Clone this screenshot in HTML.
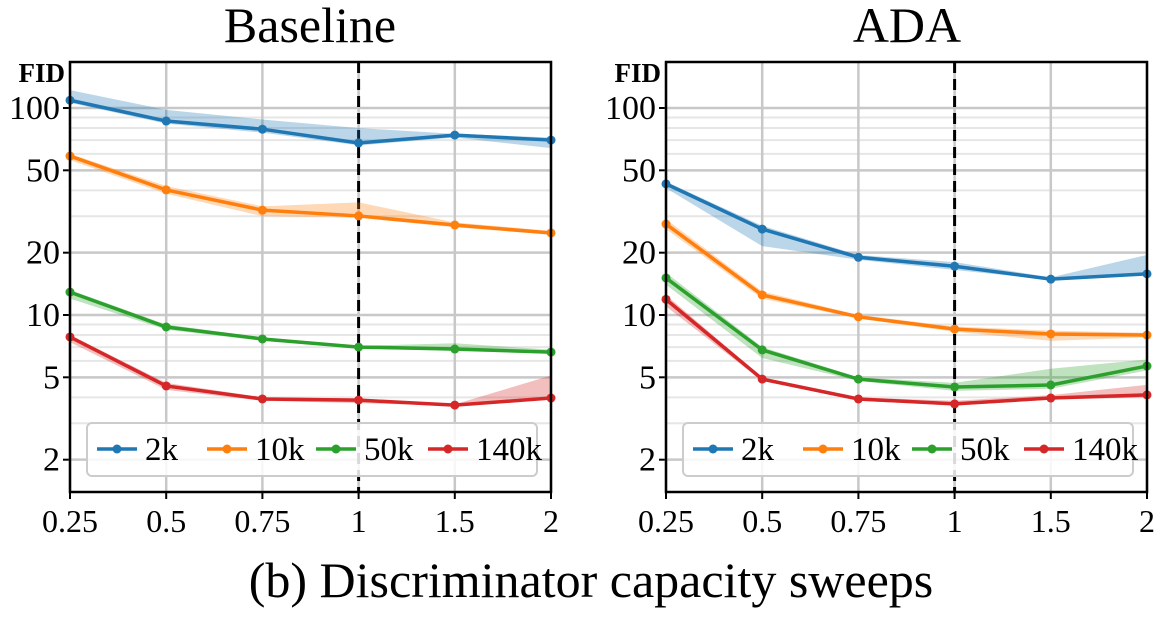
<!DOCTYPE html>
<html><head><meta charset="utf-8"><style>
body{margin:0;background:#fff;}
svg{display:block;}
svg text{font-family:"Liberation Serif","DejaVu Serif",serif;}
</style></head><body>
<svg id="c" width="1157" height="622" viewBox="0 0 1157 622" font-family="Liberation Serif, serif">
<text x="310" y="42" font-size="50" font-family="Liberation Serif, serif" text-anchor="middle">Baseline</text>
<text x="907" y="42" font-size="50" font-family="Liberation Serif, serif" text-anchor="middle">ADA</text>
<text x="591" y="597" font-size="50" font-family="Liberation Serif, serif" text-anchor="middle">(b) Discriminator capacity sweeps</text>
</svg>
<script>
const categories=["0.25","0.5","0.75","1","1.5","2"];
const seriesNames=["2k","10k","50k","140k"];
const colors=["#1f77b4","#ff7f0e","#2ca02c","#d62728"];
const yTicks=[2,5,10,20,50,100];
const base2k=[109,86.5,79,67.8,74,70];
const base10k=[58.6,40.2,32.1,30.1,27.2,24.9];
const base50k=[12.9,8.75,7.66,7.0,6.85,6.62];
const base140k=[7.83,4.54,3.93,3.88,3.67,3.97];
const base2kLo=[106,84,76,66,72,64];
const base2kHi=[122,98,88,80,75,72];
const base10kLo=[56,38.5,30,29.5,26.5,24.5];
const base10kHi=[60,42,33.5,35,28,25.5];
const base50kLo=[12,8.5,7.5,6.9,6.7,6.5];
const base50kHi=[13.2,9,7.8,7.1,7.3,6.8];
const base140kLo=[7.4,4.35,3.85,3.75,3.65,3.9];
const base140kHi=[8,4.7,4,3.95,3.7,5.1];
const ada2k=[43,26,19.0,17.2,14.9,15.8];
const ada10k=[27.5,12.5,9.8,8.55,8.1,8.0];
const ada50k=[15.1,6.78,4.9,4.49,4.59,5.67];
const ada140k=[11.9,4.9,3.93,3.72,3.97,4.11];
const ada2kLo=[41,21.5,18.5,16.5,14.8,15.5];
const ada2kHi=[44,27,19.5,18,15.2,19.5];
const ada10kLo=[26,12,9.6,8.3,7.5,7.8];
const ada10kHi=[29,13,10,8.8,8.4,8.2];
const ada50kLo=[14,6.2,4.8,4.3,4.4,5.4];
const ada50kHi=[16,7,5,4.7,5.5,6.1];
const ada140kLo=[11,4.8,3.85,3.65,3.9,4.0];
const ada140kHi=[12.5,5.0,4.0,3.85,4.1,4.6];
const panels=[
 {name:"baseline",x0:70,x1:551,s:[base2k,base10k,base50k,base140k],lo:[base2kLo,base10kLo,base50kLo,base140kLo],hi:[base2kHi,base10kHi,base50kHi,base140kHi]},
 {name:"ada",x0:666,x1:1147,s:[ada2k,ada10k,ada50k,ada140k],lo:[ada2kLo,ada10kLo,ada50kLo,ada140kLo],hi:[ada2kHi,ada10kHi,ada50kHi,ada140kHi]}
];
const svg=document.getElementById('c');
const NS="http://www.w3.org/2000/svg";
const FF="Liberation Serif, serif";
const T=62,B=492;
function yScale(v){return 522-207*Math.log10(v);}
function mk(tag,attrs,parent){const e=document.createElementNS(NS,tag);for(const k in attrs)e.setAttribute(k,attrs[k]);(parent||svg).appendChild(e);return e;}
panels.forEach(p=>{
 const xs=i=>p.x0+(p.x1-p.x0)*i/(categories.length-1);
 const g=mk('g',{});
 
 
 [1,10,100].forEach(d=>{[3,4,6,7,8,9].forEach(m=>{const v=d*m;const y=yScale(v);if(y>T&&y<B){const l=mk('line',{x1:p.x0,x2:p.x1,y1:y,y2:y,stroke:'#e6e6e6','stroke-width':2},g);}});});
 yTicks.forEach(v=>{const y=yScale(v);const l=mk('line',{x1:p.x0,x2:p.x1,y1:y,y2:y,stroke:'#c8c8c8','stroke-width':2.5},g);
  mk('line',{x1:p.x0-7,x2:p.x0,y1:y,y2:y,stroke:'#000','stroke-width':2},g);
  const t=mk('text',{x:p.x0-10,y:y+11,'font-size':34,'font-family':FF,'text-anchor':'end'},g);t.textContent=v;});
 categories.forEach((c,i)=>{const x=xs(i);
  const l=mk('line',{x1:x,x2:x,y1:T,y2:B,stroke:'#c8c8c8','stroke-width':2.5},g);
  mk('line',{x1:x,x2:x,y1:B,y2:B+7,stroke:'#000','stroke-width':2},g);
  const t=mk('text',{x:x,y:B+40,'font-size':32,'font-family':FF,'text-anchor':'middle'},g);t.textContent=c;});
 const dl=mk('line',{x1:xs(3),x2:xs(3),y1:T,y2:B,stroke:'#000','stroke-width':3,'stroke-dasharray':'11,6'},g);
 
 p.s.forEach((vals,si)=>{
  let pts=p.hi[si].map((v,i)=>xs(i)+','+yScale(v));
  pts=pts.concat(p.lo[si].map((v,i)=>xs(i)+','+yScale(v)).reverse());
  const band=mk('polygon',{points:pts.join(' '),fill:colors[si],'fill-opacity':0.3},g);
  
  const line=mk('polyline',{points:vals.map((v,i)=>xs(i)+','+yScale(v)).join(' '),fill:'none',stroke:colors[si],'stroke-width':3.5},g);
  
  vals.forEach((v,i)=>{const c=mk('circle',{cx:xs(i),cy:yScale(v),r:4.5,fill:colors[si]},g);});
 });
 const fr=mk('rect',{x:p.x0,y:T,width:p.x1-p.x0,height:B-T,fill:'none',stroke:'#000','stroke-width':2.5},g);
 
 const ft=mk('text',{x:p.x0-5,y:82,'font-size':27,'font-weight':'bold','font-family':FF,'text-anchor':'end'},g);ft.textContent='FID';
 
 const lg=mk('g',{},g);
 const lx=p.x0+17;
 mk('rect',{x:lx,y:423,width:450,height:53,rx:5,fill:'#fff','fill-opacity':0.85,stroke:'#ccc','stroke-width':2},lg);
 const offs=[0,110,219,331];
 seriesNames.forEach((n,si)=>{const ex=lx+10+offs[si];
  const e=mk('g',{},lg);
  mk('line',{x1:ex,x2:ex+40,y1:449,y2:449,stroke:colors[si],'stroke-width':3.5},e);
  mk('circle',{cx:ex+20,cy:449,r:4.5,fill:colors[si]},e);
  const t=mk('text',{x:ex+48,y:460,'font-size':33,'font-family':FF},e);t.textContent=n;});
});
</script>
</body></html>
